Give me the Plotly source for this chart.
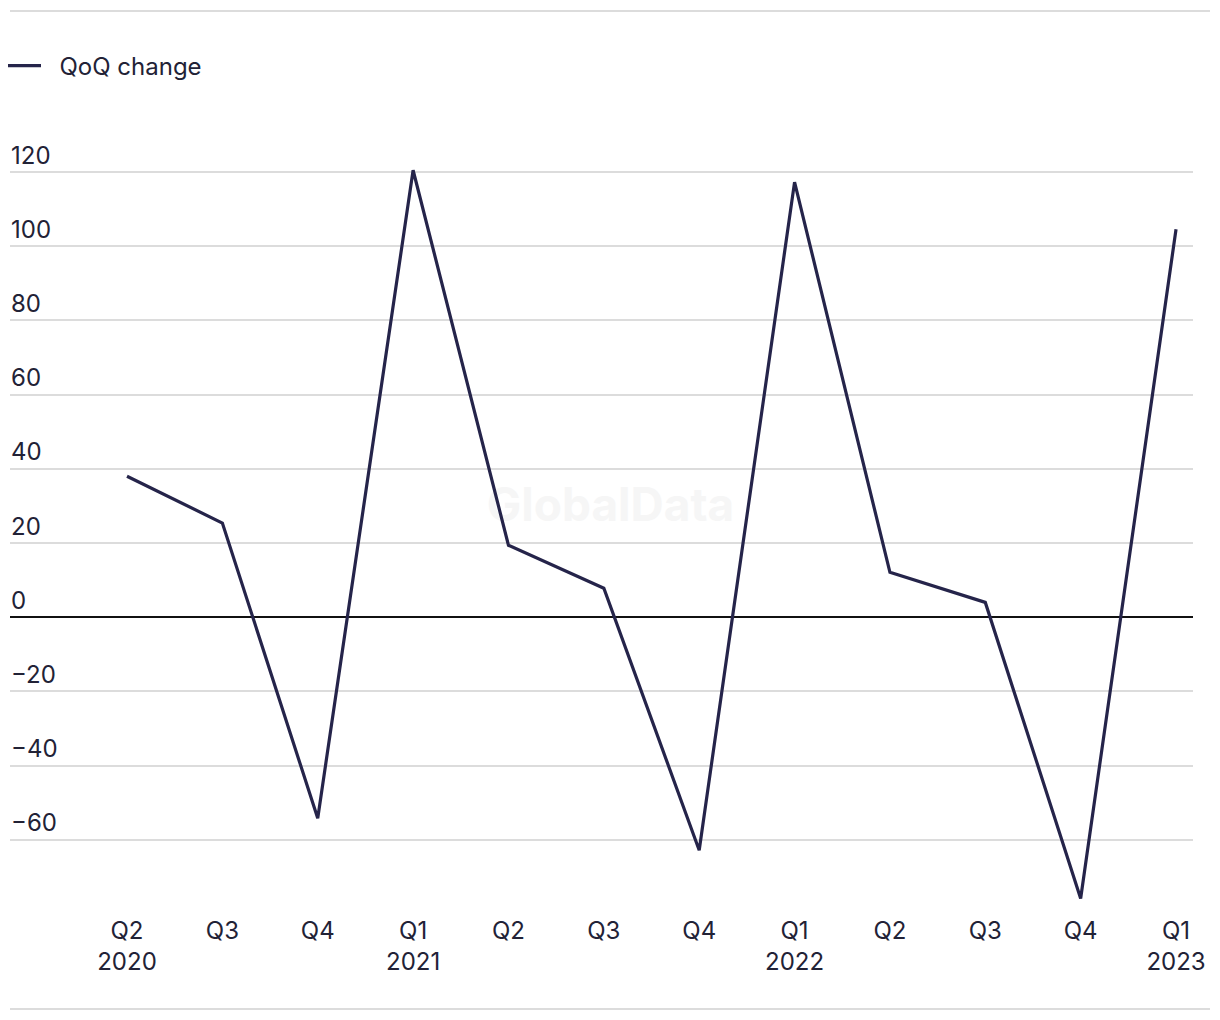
import plotly.graph_objects as go

quarters = ["Q2", "Q3", "Q4", "Q1", "Q2", "Q3", "Q4", "Q1", "Q2", "Q3", "Q4", "Q1"]
years = ["2020", "", "", "2021", "", "", "", "2022", "", "", "", "2023"]
qoq_change = [38.0, 25.4, -54.2, 120.5, 19.4, 7.8, -62.8, 117.3, 12.1, 4.0, -75.8, 104.6]
y_ticks = [-60, -40, -20, 0, 20, 40, 60, 80, 100, 120]

x_idx = list(range(len(quarters)))
tick_text = [q + ("<br>" + y if y else "") for q, y in zip(quarters, years)]

FONT = "Inter, 'Liberation Sans', Arial, sans-serif"
TXT = "#222236"
LINE = "#25244a"

OFF = 8  # page body margin
W, H = 1220, 1020
ml, mr, mt, mb = 10 - OFF, 1220 - (1193 - OFF), 135 - OFF, 1020 - (914 - OFF)
pw = W - ml - mr
ph = H - mt - mb

def px_x(p):
    return (p - OFF - ml) / pw

def px_y(p):
    return (H - mb - (p - OFF)) / ph

fig = go.Figure()

# faint watermark behind the line
fig.add_trace(go.Scatter(
    x=[5.07], y=[29], mode="text", text=["<b>GlobalData</b>"],
    textfont=dict(family=FONT, size=46, color="#f6f6f6"),
    showlegend=False, hoverinfo="skip",
))

fig.add_trace(go.Scatter(
    x=x_idx, y=qoq_change, mode="lines", name="\u00a0\u00a0QoQ change",
    line=dict(color=LINE, width=3.2),
))

fig.update_layout(
    width=W, height=H,
    margin=dict(l=ml, r=mr, t=mt, b=mb, autoexpand=False),
    paper_bgcolor="white", plot_bgcolor="white",
    font=dict(family=FONT, size=24, color=TXT),
    showlegend=True,
    legend=dict(
        x=px_x(1), y=px_y(66), xanchor="left", yanchor="middle",
        orientation="h", font=dict(family=FONT, size=24, color=TXT),
        bgcolor="rgba(0,0,0,0)", itemwidth=35,
    ),
    xaxis=dict(
        range=[-1.227, 11.178], tickvals=x_idx, ticktext=tick_text,
        showgrid=False, zeroline=False, showline=False, ticks="",
        tickfont=dict(family=FONT, size=24, color=TXT),
    ),
    yaxis=dict(
        range=[-80, 130], tickvals=y_ticks,
        ticklabelposition="inside top", ticklabelstandoff=-2,
        showgrid=True, gridcolor="#dcdcdc", gridwidth=1.5,
        zeroline=True, zerolinecolor="#111111", zerolinewidth=1.6,
        showline=False, ticks="",
        tickfont=dict(family=FONT, size=24, color=TXT),
    ),
    shapes=[
        dict(type="line", xref="paper", yref="paper",
             x0=0, x1=px_x(1210), y0=px_y(11), y1=px_y(11),
             line=dict(color="#dcdcdc", width=2)),
        dict(type="line", xref="paper", yref="paper",
             x0=0, x1=px_x(1210), y0=px_y(1009), y1=px_y(1009),
             line=dict(color="#dcdcdc", width=2)),
    ],
)

fig.write_html("out.html")
